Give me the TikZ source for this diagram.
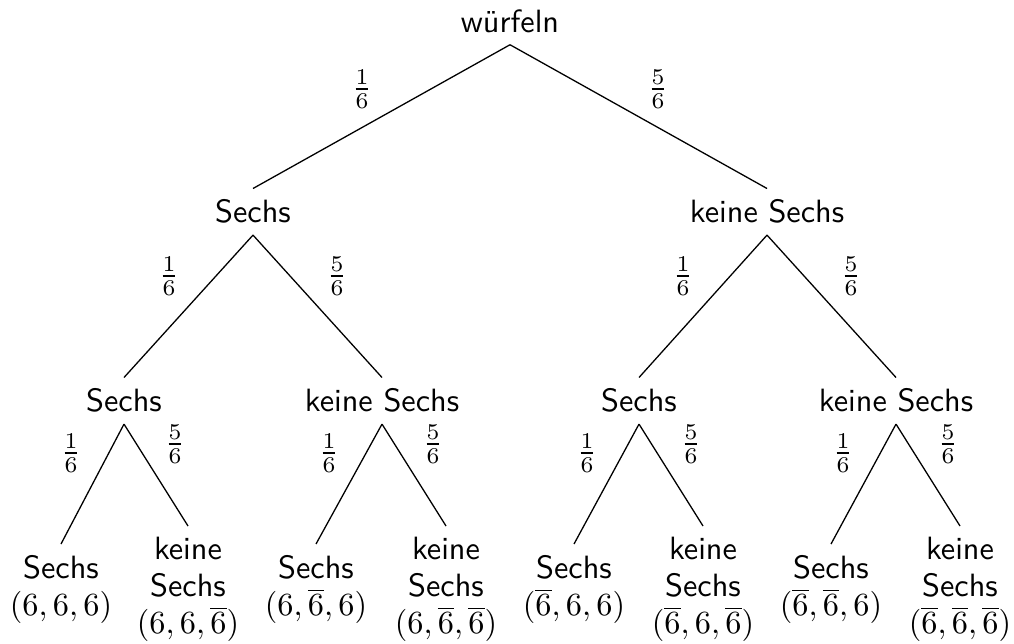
\documentclass[tikz,border=0pt]{standalone}
\begin{document}
\begin{tikzpicture}[x=0.31pt,y=-0.31pt,
  tn/.style={font=\sffamily, anchor=base},
  leafnode/.style={font=\fontsize{10}{11.5}\selectfont\sffamily, align=center, anchor=north},
  prob/.style={inner sep=0pt},
  branch/.style={line width=0.4pt}]
\useasboundingbox (0,0) rectangle (1014,644);
% root
\node[tn] (r) at (510,33) {würfeln};
% level 1
\node[tn] (a) at (253,223) {Sechs};
\node[tn] (b) at (767,223) {keine Sechs};
% level 2
\node[tn] (aa) at (124,412) {Sechs};
\node[tn] (ab) at (382,412) {keine Sechs};
\node[tn] (ba) at (639,412) {Sechs};
\node[tn] (bb) at (896,412) {keine Sechs};
% leaves
\node[leafnode] (aaa) at (61,544)  {Sechs\\$(6,6,6)$};
\node[leafnode] (aab) at (188,526) {keine\\Sechs\\$(6,6,\overline{6})$};
\node[leafnode] (aba) at (316,544) {Sechs\\$(6,\overline{6},6)$};
\node[leafnode] (abb) at (446,526) {keine\\Sechs\\$(6,\overline{6},\overline{6})$};
\node[leafnode] (baa) at (574,544) {Sechs\\$(\overline{6},6,6)$};
\node[leafnode] (bab) at (703,526) {keine\\Sechs\\$(\overline{6},6,\overline{6})$};
\node[leafnode] (bba) at (831,544) {Sechs\\$(\overline{6},\overline{6},6)$};
\node[leafnode] (bbb) at (960,526) {keine\\Sechs\\$(\overline{6},\overline{6},\overline{6})$};
% connectors
\draw[branch] (r.south) -- (a.north);
\draw[branch] (r.south) -- (b.north);
\draw[branch] (a.south) -- (aa.north);
\draw[branch] (a.south) -- (ab.north);
\draw[branch] (b.south) -- (ba.north);
\draw[branch] (b.south) -- (bb.north);
\draw[branch] (aa.south) -- (aaa.north);
\draw[branch] (aa.south) -- (aab.north);
\draw[branch] (ab.south) -- (aba.north);
\draw[branch] (ab.south) -- (abb.north);
\draw[branch] (ba.south) -- (baa.north);
\draw[branch] (ba.south) -- (bab.north);
\draw[branch] (bb.south) -- (bba.north);
\draw[branch] (bb.south) -- (bbb.north);
% probabilities
\node[prob] (p1) at (362,89) {$\frac{1}{6}$};
\node[prob] (p2) at (658,89) {$\frac{5}{6}$};
\node[prob] (p3) at (169,276) {$\frac{1}{6}$};
\node[prob] (p4) at (337,276) {$\frac{5}{6}$};
\node[prob] (p5) at (683,276) {$\frac{1}{6}$};
\node[prob] (p6) at (851,276) {$\frac{5}{6}$};
\node[prob] (p7) at (71,453) {$\frac{1}{6}$};
\node[prob] (p8) at (175,444) {$\frac{5}{6}$};
\node[prob] (p9) at (329,453) {$\frac{1}{6}$};
\node[prob] (p10) at (433,444) {$\frac{5}{6}$};
\node[prob] (p11) at (587,453) {$\frac{1}{6}$};
\node[prob] (p12) at (691,444) {$\frac{5}{6}$};
\node[prob] (p13) at (843,453) {$\frac{1}{6}$};
\node[prob] (p14) at (948,444) {$\frac{5}{6}$};
\end{tikzpicture}
\end{document}
